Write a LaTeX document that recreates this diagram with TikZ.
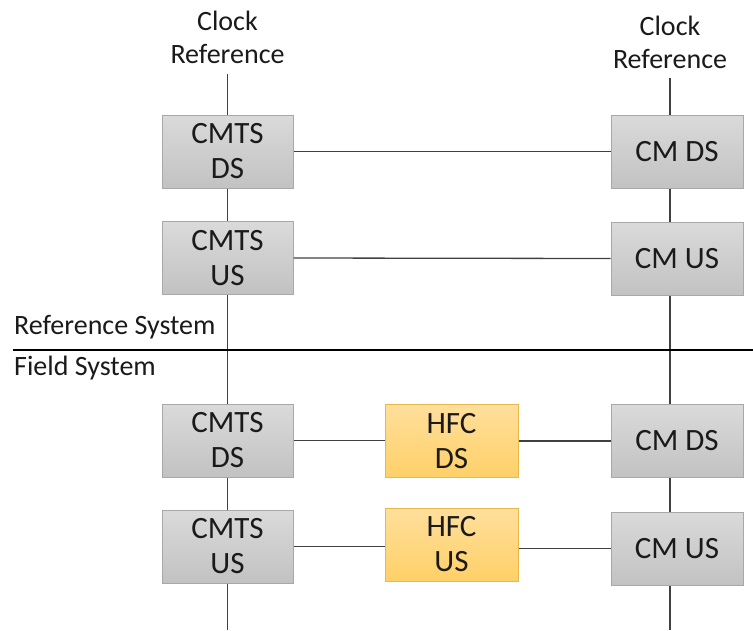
\documentclass[tikz,border=0pt]{standalone}
\usepackage{fontspec}
\setmainfont{Carlito}
\definecolor{graytop}{HTML}{DADADA}
\definecolor{graybot}{HTML}{C2C2C2}
\definecolor{boxborder}{HTML}{A8A8A8}
\definecolor{hfctop}{HTML}{FFDF9C}
\definecolor{hfcbot}{HTML}{FFD068}
\definecolor{hfcborder}{HTML}{E8B84A}
\definecolor{wirec}{HTML}{404040}
\definecolor{txt}{HTML}{1A1A1A}
\begin{document}
\begin{tikzpicture}[x=1pt,y=-1pt,
  box/.style={draw=boxborder, line width=1pt, top color=graytop, bottom color=graybot,
    minimum width=131pt, minimum height=73pt, inner sep=0pt, align=center,
    font=\fontsize{31}{35}\selectfont, text=txt},
  hfcbox/.style={box, draw=hfcborder, top color=hfctop, bottom color=hfcbot, minimum width=133pt},
  wire/.style={draw=wirec, line width=1.3pt},
  lbl/.style={align=center, font=\fontsize{28}{33}\selectfont, text=txt, inner sep=0pt}]
\useasboundingbox (0,0) rectangle (753,630);

% labels
\node[lbl] (clk1) at (227.5,37) {Clock\\Reference};
\node[lbl] (clk2) at (670,42) {Clock\\Reference};
\node[lbl, anchor=west] (refsys) at (14,327) {Reference System};
\node[lbl, anchor=west] (fldsys) at (14,368) {Field System};

% boxes
\node[box] (cmtsds1) at (227.5,151.5) {CMTS\\DS};
\node[box, minimum width=132pt] (cmds1) at (677,151.5) {CM DS};
\node[box] (cmtsus1) at (227.5,258) {CMTS\\US};
\node[box, minimum width=132pt] (cmus1) at (677,258.5) {CM US};
\node[box] (cmtsds2) at (227.5,440.5) {CMTS\\DS};
\node[hfcbox] (hfcds) at (451.5,441) {HFC\\DS};
\node[box, minimum width=132pt] (cmds2) at (677,441) {CM DS};
\node[box] (cmtsus2) at (227.5,546.5) {CMTS\\US};
\node[hfcbox] (hfcus) at (451.5,544.5) {HFC\\US};
\node[box, minimum width=132pt] (cmus2) at (677,548.5) {CM US};

% end coordinates
\coordinate (t1) at (227.5,74);
\coordinate (t2) at (670,78);
\coordinate (b1) at (227.5,630);
\coordinate (b2) at (670,630);
\coordinate (sepL) at (13,350);
\coordinate (sepR) at (753,350);

% left vertical chain
\draw[wire] (t1) -- (cmtsds1.north);
\draw[wire] (cmtsds1.south) -- (cmtsus1.north);
\draw[wire] (cmtsus1.south) -- (cmtsds2.north);
\draw[wire] (cmtsds2.south) -- (cmtsus2.north);
\draw[wire] (cmtsus2.south) -- (b1);

% right vertical chain
\draw[wire] (t2) -- (t2 |- cmds1.north);
\draw[wire] (t2 |- cmds1.south) -- (t2 |- cmus1.north);
\draw[wire] (t2 |- cmus1.south) -- (t2 |- cmds2.north);
\draw[wire] (t2 |- cmds2.south) -- (t2 |- cmus2.north);
\draw[wire] (t2 |- cmus2.south) -- (b2);

% horizontal links
\draw[wire] (cmtsds1.east) -- (cmds1.west);
\draw[wire] (cmtsus1.east) -- (cmus1.west);
\draw[wire] (cmtsds2.east) -- (cmtsds2.east -| hfcds.west);
\draw[wire] (hfcds.east |- cmds2.west) -- (cmds2.west);
\draw[wire] (cmtsus2.east) -- (cmtsus2.east -| hfcus.west);
\draw[wire] (hfcus.east |- cmus2.west) -- (cmus2.west);

% separator
\draw[draw=black, line width=1.1pt] (sepL) -- (sepR);
\end{tikzpicture}
\end{document}
